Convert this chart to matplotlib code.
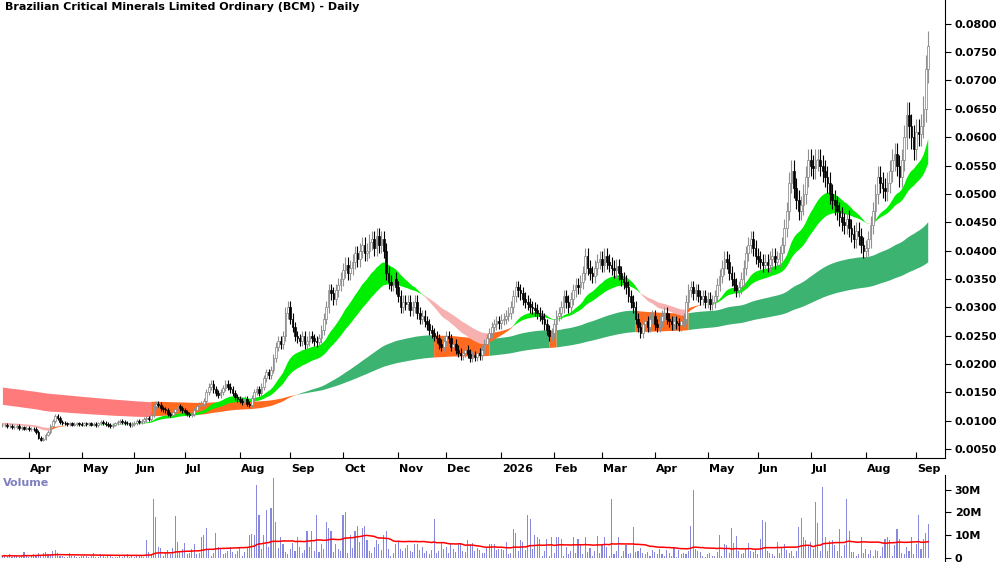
import numpy as np, pandas as pd
import matplotlib
matplotlib.use("Agg")
import matplotlib.pyplot as plt
from matplotlib.ticker import FuncFormatter

# prior history (before visible window), used only to seed the moving-average ribbons
warmup = [
 0.0230,0.0225,0.0222,0.0228,0.0220,0.0218,0.0224,0.0221,0.0216,0.0222,0.0226,0.0220,0.0215,0.0219,0.0223,0.0218,0.0214,0.0220,0.0224,0.0219,
 0.0215,0.0218,0.0222,0.0217,0.0213,0.0218,0.0221,0.0216,0.0212,0.0217,0.0220,0.0215,0.0211,0.0216,0.0219,0.0214,0.0210,0.0214,0.0217,0.0212,
 0.0208,0.0212,0.0215,0.0210,0.0206,0.0210,0.0213,0.0208,0.0204,0.0208,0.0211,0.0206,0.0202,0.0206,0.0209,0.0204,0.0200,0.0204,0.0206,0.0201,
 0.0135,0.0132,0.0130,0.0134,0.0129,0.0127,0.0131,0.0128,0.0125,0.0129,0.0132,0.0127,0.0124,0.0128,0.0130,0.0126,0.0123,0.0127,0.0129,0.0125,
 0.0122,0.0126,0.0128,0.0124,0.0121,0.0125,0.0127,0.0123,0.0120,0.0124,0.0126,0.0122,0.0119,0.0122,0.0125,0.0121,0.0118,0.0121,0.0123,0.0119,
 0.0117,0.0120,0.0122,0.0118,0.0115,0.0118,0.0120,0.0116,0.0113,0.0116,0.0118,0.0114,0.0111,0.0114,0.0116,0.0112,0.0110,0.0112,0.0114,0.0110,
 0.0098,0.0096,0.0095,0.0097,0.0094,0.0093,0.0096,0.0095,0.0093,0.0095,0.0097,0.0094,0.0092,0.0094,0.0096,0.0094,0.0092,0.0093,0.0095,0.0093,
 0.0091,0.0093,0.0095,0.0092,0.0090,0.0092,0.0094,0.0092,0.0090,0.0091,0.0093,0.0091,0.0090,0.0092,0.0093,0.0091,0.0090,0.0092,0.0093,0.0092,
]

closes_by_month = [
 [0.0092,0.0093,0.0090,0.0091,0.0088,0.0089,0.0090,0.0087,0.0088,0.0086,0.0087,0.0085,0.0086,0.0085],
 [0.0080,0.0070,0.0066,0.0068,0.0075,0.0080,0.0090,0.0100,0.0108,0.0104,0.0098,0.0096,0.0095,0.0094,0.0095,0.0093,0.0094,0.0095,0.0094,0.0093,0.0095,0.0094],
 [0.0095,0.0093,0.0094,0.0092,0.0095,0.0097,0.0096,0.0094,0.0092,0.0090,0.0093,0.0095,0.0098,0.0100,0.0097,0.0096,0.0095,0.0092,0.0094,0.0096,0.0100,0.0098],
 [0.0100,0.0102,0.0104,0.0103,0.0110,0.0125,0.0130,0.0128,0.0122,0.0120,0.0118,0.0112,0.0110,0.0115,0.0120,0.0125,0.0122,0.0118,0.0115,0.0112,0.0110],
 [0.0112,0.0118,0.0125,0.0128,0.0130,0.0135,0.0150,0.0160,0.0165,0.0155,0.0148,0.0145,0.0150,0.0158,0.0165,0.0160,0.0155,0.0148,0.0142,0.0138,0.0135,0.0133,0.0138],
 [0.0130,0.0128,0.0140,0.0150,0.0155,0.0148,0.0160,0.0175,0.0185,0.0180,0.0190,0.0210,0.0230,0.0240,0.0235,0.0250,0.0290,0.0300,0.0280,0.0265,0.0250],
 [0.0245,0.0240,0.0250,0.0235,0.0240,0.0250,0.0245,0.0240,0.0238,0.0245,0.0260,0.0280,0.0300,0.0330,0.0325,0.0315,0.0330,0.0340,0.0350,0.0365,0.0375,0.0360],
 [0.0370,0.0380,0.0395,0.0385,0.0400,0.0410,0.0395,0.0400,0.0415,0.0420,0.0405,0.0425,0.0410,0.0420,0.0400,0.0360,0.0345,0.0340,0.0350,0.0335,0.0320,0.0300,0.0310],
 [0.0305,0.0310,0.0295,0.0300,0.0310,0.0290,0.0280,0.0285,0.0275,0.0270,0.0260,0.0255,0.0250,0.0245,0.0235,0.0230,0.0240,0.0250,0.0245,0.0230],
 [0.0235,0.0225,0.0220,0.0215,0.0220,0.0225,0.0218,0.0210,0.0215,0.0212,0.0220,0.0215,0.0225,0.0235,0.0245,0.0255,0.0265,0.0270,0.0275,0.0272,0.0278,0.0280,0.0285],
 [0.0290,0.0300,0.0320,0.0335,0.0330,0.0325,0.0315,0.0310,0.0305,0.0300,0.0298,0.0295,0.0290,0.0285,0.0280,0.0270,0.0260,0.0250,0.0255,0.0270,0.0285,0.0290],
 [0.0300,0.0320,0.0310,0.0300,0.0315,0.0330,0.0340,0.0335,0.0345,0.0360,0.0390,0.0370,0.0360,0.0355,0.0370,0.0380,0.0385,0.0375,0.0390,0.0380],
 [0.0375,0.0370,0.0365,0.0372,0.0360,0.0350,0.0345,0.0335,0.0320,0.0310,0.0300,0.0280,0.0265,0.0255,0.0270,0.0275,0.0265,0.0280,0.0285,0.0270,0.0265,0.0275],
 [0.0285,0.0290,0.0280,0.0275,0.0270,0.0275,0.0272,0.0268,0.0275,0.0280,0.0310,0.0330,0.0335,0.0325,0.0330,0.0320,0.0315,0.0320,0.0310,0.0315,0.0305,0.0310],
 [0.0320,0.0340,0.0355,0.0370,0.0385,0.0380,0.0360,0.0350,0.0340,0.0330,0.0335,0.0350,0.0370,0.0395,0.0410,0.0420,0.0405,0.0390,0.0385,0.0380,0.0375],
 [0.0380,0.0375,0.0385,0.0390,0.0380,0.0385,0.0395,0.0410,0.0440,0.0470,0.0520,0.0540,0.0510,0.0490,0.0470,0.0480,0.0500,0.0530,0.0560,0.0550,0.0545,0.0560],
 [0.0560,0.0550,0.0540,0.0530,0.0520,0.0500,0.0490,0.0480,0.0470,0.0460,0.0450,0.0445,0.0455,0.0440,0.0430,0.0420,0.0435,0.0425,0.0410,0.0400,0.0405,0.0420,0.0445],
 [0.0470,0.0500,0.0530,0.0520,0.0510,0.0505,0.0520,0.0540,0.0560,0.0570,0.0550,0.0530,0.0560,0.0600,0.0640,0.0620,0.0600,0.0580,0.0610,0.0605,0.0620],
 [0.0650,0.0720,0.0760],
]
volume_by_month = [
 [0.8,1.2,0.5,1.5,0.6,0.9,1.0,0.4,0.7,2.5,0.8,0.6,1.2,1.5],
 [1.0,2.0,1.3,2.2,2.5,1.5,1.8,3.0,3.5,2.0,1.0,0.8,0.6,0.5,2.2,0.7,0.9,0.6,0.5,0.8,1.0,0.7],
 [0.5,0.9,2.0,0.6,0.4,1.5,0.7,0.5,0.8,1.2,0.6,0.4,0.5,0.9,0.6,0.8,1.5,0.5,0.7,0.6,0.8,1.0],
 [1.2,0.5,8.0,2.5,1.5,26.0,18.0,5.0,4.5,1.0,2.0,3.5,1.8,4.5,18.5,7.0,3.0,4.0,6.5,1.5,2.0],
 [4.0,6.0,1.5,2.0,9.0,10.0,13.0,3.5,1.0,2.0,11.0,5.0,4.5,1.5,2.0,3.0,5.0,2.5,1.5,3.0,4.5,1.0,2.5],
 [5.0,10.0,10.5,10.0,32.0,19.0,4.0,10.0,21.0,5.0,22.0,35.0,16.0,4.5,9.0,6.0,2.5,1.5,4.0,6.5,3.0],
 [9.0,5.0,2.0,3.5,12.0,5.0,12.0,3.0,19.0,2.5,6.0,4.0,16.0,13.0,12.0,2.5,6.0,4.0,3.0,19.0,20.0,2.0],
 [10.0,4.5,12.0,14.0,7.0,13.0,14.0,8.0,3.0,2.0,5.0,8.0,6.0,3.5,10.0,12.0,4.0,1.0,2.0,6.0,7.5,4.0,3.0],
 [4.5,5.5,3.0,2.5,6.0,6.0,3.5,5.0,2.0,3.0,1.5,3.5,17.0,2.0,3.0,6.5,4.0,5.0,2.0,6.5],
 [4.0,2.5,6.0,6.5,3.0,2.5,8.0,6.0,6.5,3.0,4.5,3.5,2.0,2.0,5.0,6.0,6.0,6.0,3.5,4.0,4.0,3.5,7.0],
 [1.5,2.0,12.5,11.0,3.0,8.0,7.0,3.5,19.0,17.0,4.0,10.0,9.0,8.5,1.0,3.0,8.5,1.0,9.0,2.0,9.0,9.0],
 [8.5,1.0,5.0,1.5,3.0,9.0,2.0,8.5,6.0,1.5,9.0,2.5,4.5,1.0,3.0,9.5,2.0,5.5,9.0,5.0],
 [1.0,26.0,1.5,3.0,9.0,1.0,3.0,5.5,1.5,2.0,13.5,2.5,3.0,4.5,2.0,1.5,2.5,1.0,3.5,2.5,1.5,4.0],
 [1.5,1.0,3.5,2.0,1.0,4.5,0.5,3.5,1.5,2.0,1.5,3.0,14.0,30.0,4.0,3.0,2.5,1.0,0.5,1.5,2.0,1.0],
 [1.0,2.5,10.0,1.0,6.0,5.5,2.0,13.0,6.5,9.5,3.0,1.5,2.0,4.0,6.5,3.0,2.5,3.5,1.5,8.5,16.5],
 [16.0,3.0,2.0,1.5,1.0,7.0,2.0,5.0,6.0,3.5,2.0,3.0,1.0,3.0,13.5,17.5,9.0,8.0,5.5,7.0,4.0,24.5],
 [15.5,3.0,31.0,9.0,3.0,7.5,8.0,5.5,3.0,12.5,1.0,5.5,26.0,12.0,2.5,2.5,1.0,1.5,9.0,2.0,4.0,1.5,3.5],
 [1.0,3.5,3.0,1.0,5.0,8.5,9.0,8.0,1.0,5.5,12.5,8.5,2.0,1.5,5.0,3.0,9.0,1.5,6.0,19.0,4.0],
 [8.5,11.0,15.0],
]
month_labels = ["", "Apr","May","Jun","Jul","Aug","Sep","Oct","Nov","Dec","2026","Feb","Mar","Apr","May","Jun","Jul","Aug","Sep"]
title = "Brazilian Critical Minerals Limited Ordinary (BCM) - Daily"

closes = np.array([c for m in closes_by_month for c in m])
vols = np.array([v for m in volume_by_month for v in m]) * 1e6
n = len(closes); nw = len(warmup)
allc = pd.Series(list(warmup) + list(closes))
ema = {s: allc.ewm(span=s, adjust=False).mean().values[nw:] for s in (22, 40, 130, 250)}
opens = np.concatenate([[warmup[-1]], closes[:-1]])
x = np.arange(n)

fig = plt.figure(figsize=(10, 5.62), dpi=100)
ax = fig.add_axes([0.0, 0.185, 0.945, 0.815])
axv = fig.add_axes([0.0, 0.0, 0.945, 0.155])

def ext(m):
    m = np.asarray(m)
    return m | np.concatenate([[False], m[:-1]])

F, S = ema[130], ema[250]
lt, lb = np.maximum(F, S), np.minimum(F, S)
risingF = np.concatenate([[False], np.diff(F) > 0])
inside = (np.minimum(opens, closes) <= lt) & (np.maximum(opens, closes) >= lb)
l_orange = inside | ((F < S) & risingF)
l_red = (F < S) & ~l_orange
l_green = ~l_orange & ~l_red
for m, col in ((l_green, "#3cb371"), (l_orange, "#ff6a1f"), (l_red, "#ff7b7b")):
    ax.fill_between(x, lb, lt, where=ext(m), color=col, lw=0, zorder=1)

f, s = ema[22], ema[40]
st, sb = np.maximum(f, s), np.minimum(f, s)
rising_s = np.concatenate([[False], np.diff(s) > 0])
s_green = f >= s
s_orange = ~s_green & rising_s
s_pink = ~s_green & ~rising_s
for m, col in ((s_green, "#00ee00"), (s_orange, "#ff6a1f"), (s_pink, "#f7b0b0")):
    ax.fill_between(x, sb, st, where=ext(m), color=col, lw=0, zorder=2)

hi = np.maximum(opens, closes) * 1.035
lo = np.minimum(opens, closes) * 0.965
for i in range(n):
    up = closes[i] >= opens[i]
    ax.vlines(x[i], lo[i], hi[i], color="#909090" if up else "black", lw=0.8, zorder=3)
    b0, b1 = sorted((opens[i], closes[i]))
    ax.bar(x[i], max(b1 - b0, 0.00008), bottom=b0, width=0.7,
           color="white" if up else "black", edgecolor="#808080" if up else "black", lw=0.5, zorder=4)

ax.set_xlim(-1, 393); axv.set_xlim(-1, 393)
ax.set_ylim(0.0034, 0.0842)
ax.yaxis.tick_right()
ax.set_yticks(np.arange(0.005, 0.0801, 0.005))
ax.yaxis.set_major_formatter(FuncFormatter(lambda v, p: f"{v:.4f}"))
ax.tick_params(axis="y", labelsize=8, length=4, pad=3)
ax.text(0.005, 0.995, title, transform=ax.transAxes, va="top", ha="left", fontsize=8, fontweight="bold")

starts = np.cumsum([0] + [len(m) for m in closes_by_month])[:-1]
ax.set_xticks(starts[1:] - 3); ax.set_xticklabels([])
ax.tick_params(axis="x", length=4, direction="in")
for st_i, lab in zip(starts[1:], month_labels[1:]):
    ax.text(st_i - 2.5, -0.012, lab, transform=ax.get_xaxis_transform(), fontsize=8, fontweight="bold", va="top", ha="left")
for sp in ("top", "left"):
    ax.spines[sp].set_visible(False); axv.spines[sp].set_visible(False)
axv.spines["bottom"].set_visible(False)

axv.bar(x, vols, width=0.45, color="#8888dd", zorder=2)
axv.plot(x, pd.Series(vols).rolling(50, min_periods=1).mean(), color="red", lw=1.1, zorder=3)
axv.set_ylim(-1.8e6, 36.5e6)
axv.yaxis.tick_right()
axv.set_yticks([0, 10e6, 20e6, 30e6])
axv.set_yticklabels(["0", "10M", "20M", "30M"])
axv.tick_params(axis="y", labelsize=8, length=4, pad=3)
axv.set_xticks([])
for t in axv.get_yticklabels() + ax.get_yticklabels():
    t.set_fontweight("bold")
axv.text(0.003, 0.97, "Volume", transform=axv.transAxes, va="top", fontsize=8, fontweight="bold", color="#8080c0")
fig.savefig("out.png", dpi=100)
